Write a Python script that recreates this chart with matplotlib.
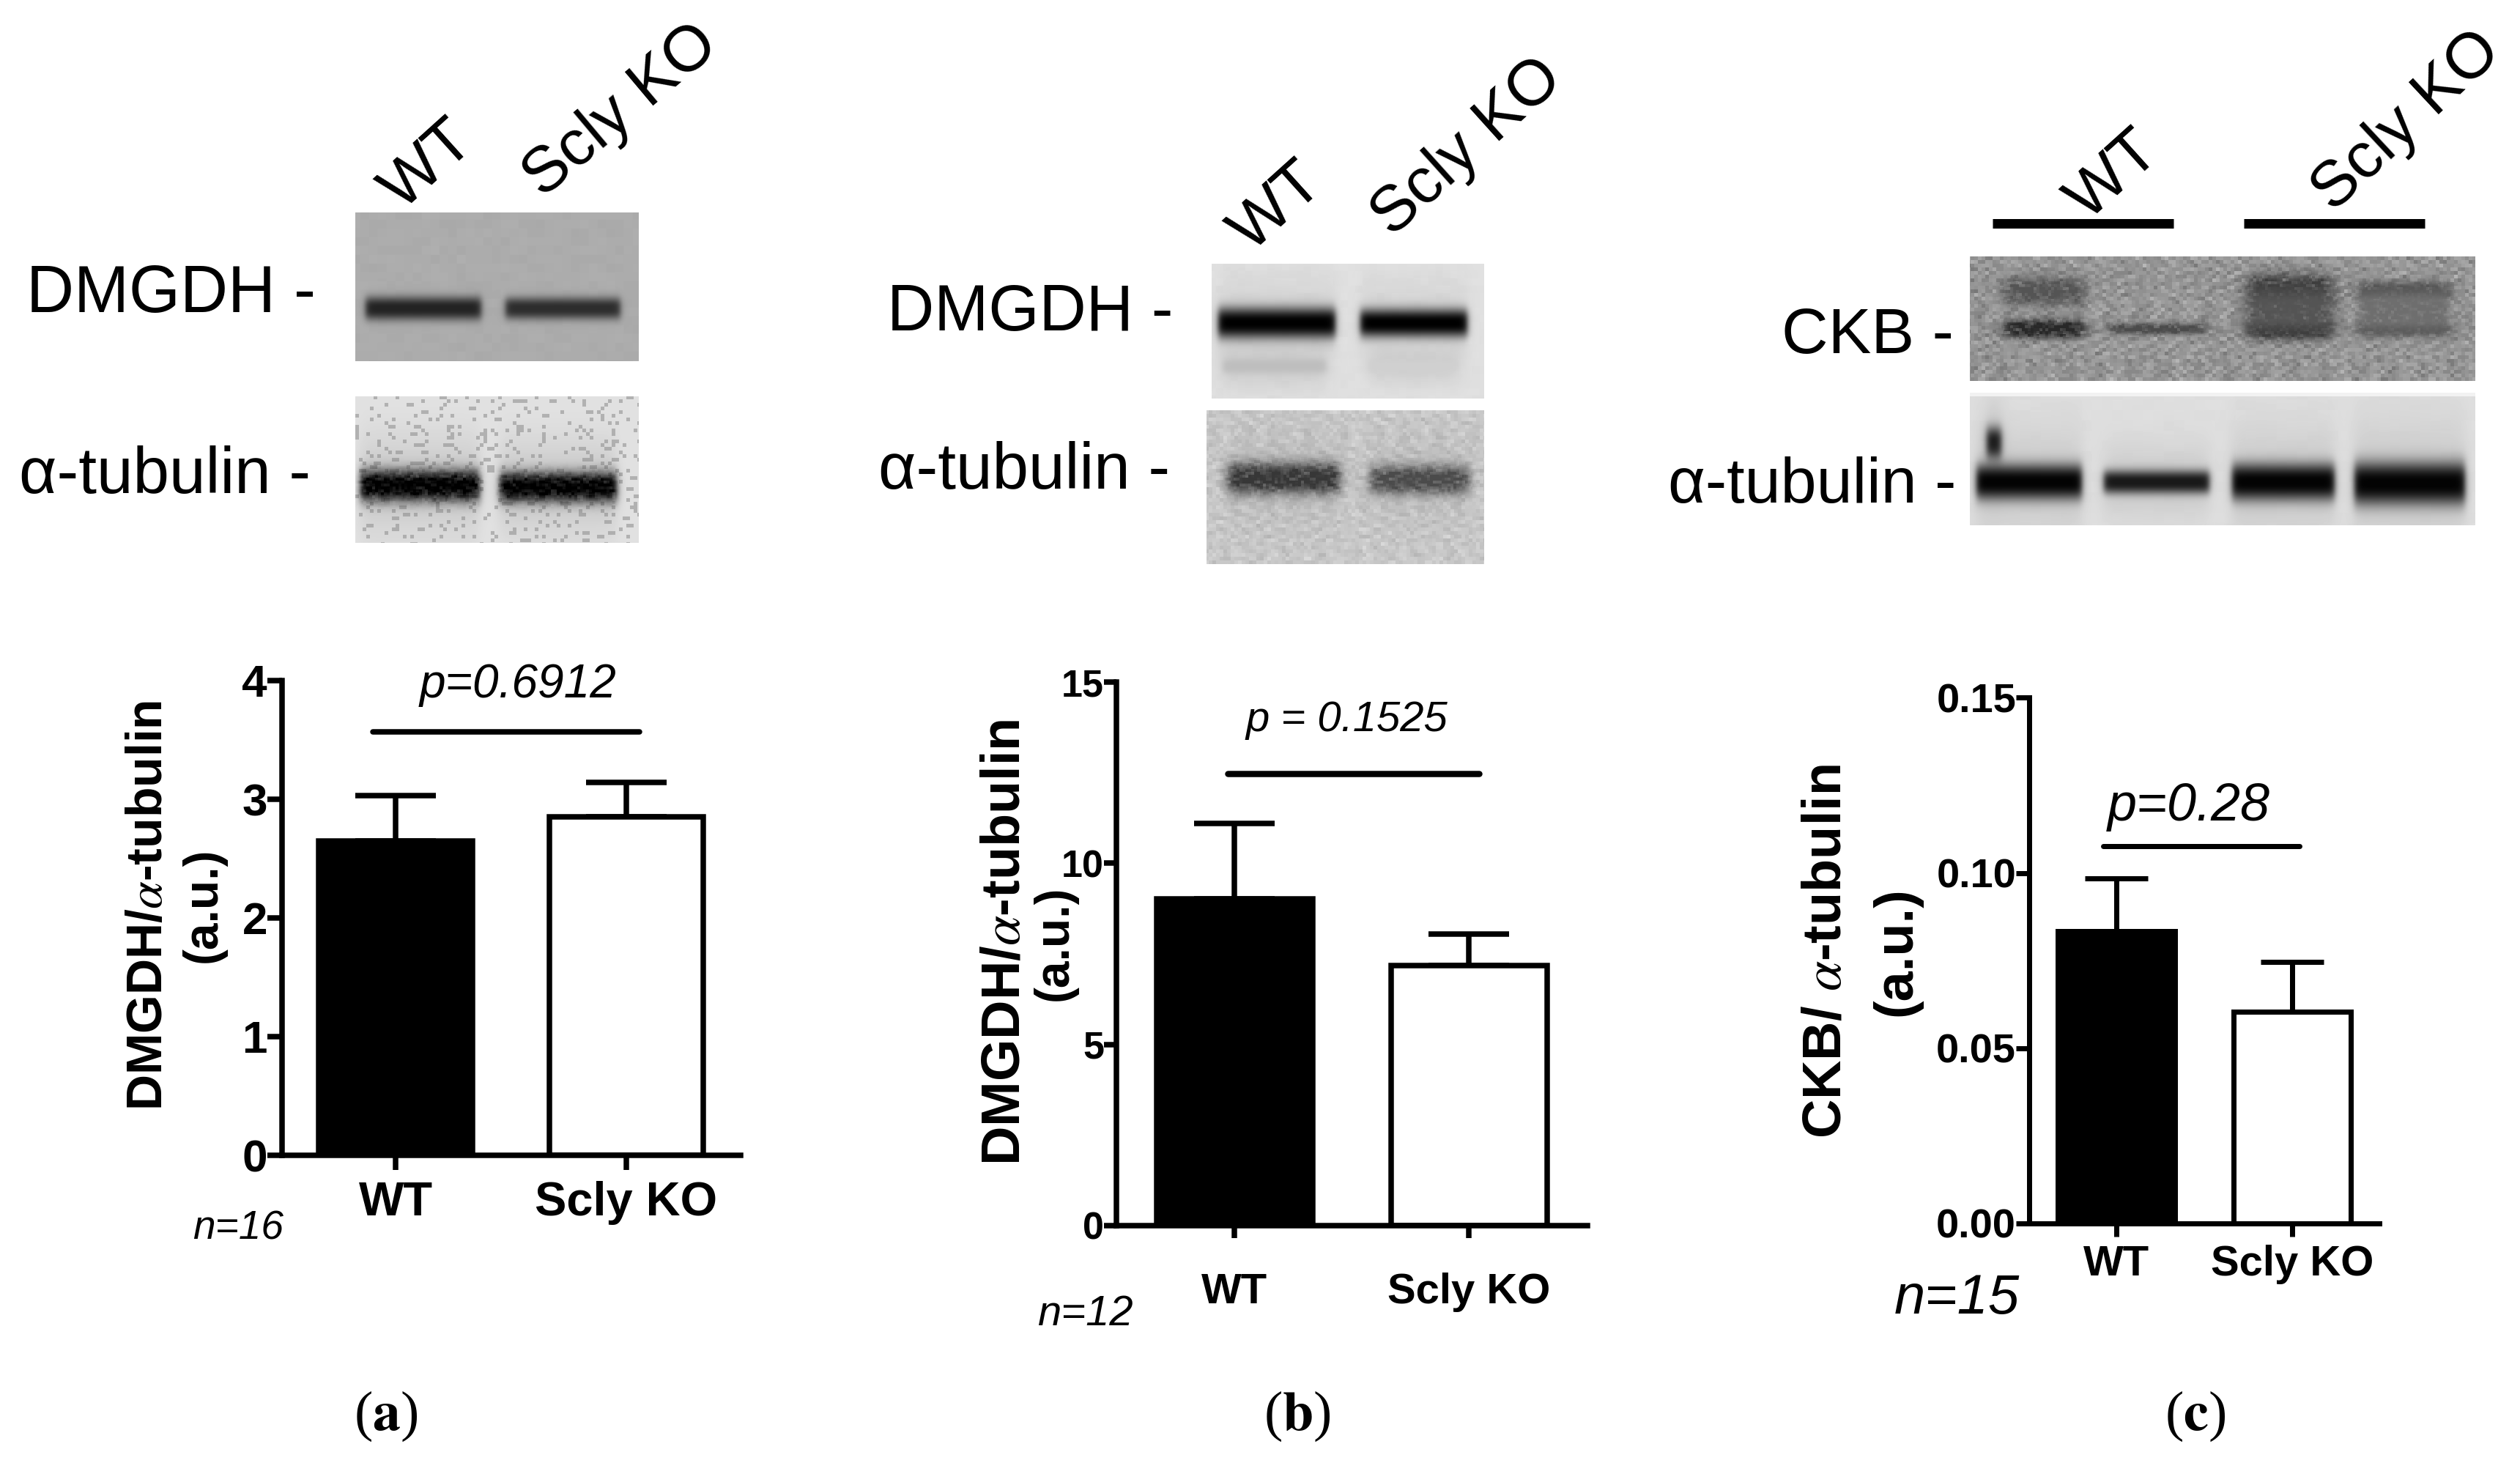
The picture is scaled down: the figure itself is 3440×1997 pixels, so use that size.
import numpy as np
import matplotlib
matplotlib.use("Agg")
import matplotlib.pyplot as plt

W, H = 3440, 1997
plt.rcParams['font.family'] = ['Liberation Sans', 'DejaVu Sans']
plt.rcParams['mathtext.fontset'] = 'stix'

# ---------- chart values ----------
categories = ["WT", "Scly KO"]
a_means = [2.65, 2.85]
a_errs = [0.38, 0.29]
a_ticks = [0, 1, 2, 3, 4]
a_ticklabels = ["0", "1", "2", "3", "4"]
b_means = [9.02, 7.18]
b_errs = [2.08, 0.86]
b_ticks = [0, 5, 10, 15]
b_ticklabels = ["0", "5", "10", "15"]
c_means = [0.0834, 0.0604]
c_errs = [0.0151, 0.0142]
c_ticks = [0.00, 0.05, 0.10, 0.15]
c_ticklabels = ["0.00", "0.05", "0.10", "0.15"]

PX = 0.72  # points per pixel at dpi=100
fig = plt.figure(figsize=(W / 100, H / 100), dpi=100, facecolor='white')

# ---------- overlay in pixel coordinates ----------
ov = fig.add_axes([0, 0, 1, 1], zorder=5)
ov.set_xlim(0, W)
ov.set_ylim(H, 0)
ov.axis('off')
ov.patch.set_alpha(0)


def box(x, a, b, s):
    return 0.5 * (np.tanh((x - a) / s) - np.tanh((x - b) / s))


def grain(X, Y, cell, k):
    i = np.floor(X / cell)
    j = np.floor(Y / cell)
    g = (np.sin(i * 1.37 * k + j * 2.11 + np.sin(j * 0.61) * 5)
         + np.sin(i * 3.03 - j * 1.73 * k + np.sin(i * 0.83) * 6)
         + np.sin(i * 0.71 + j * 4.19 + np.sin(j * 0.37) * 7)
         + np.sin(i * 5.23 * k + j * 0.53 + np.sin(i * 0.29 + j * 0.47) * 8))
    return g / 4


def blot(x0, x1, y0, y1, bg, bands, tex=0, cell=6, k=1.0, speck=0, sx=5, halo=0.0, rough=0.0, power=2.6):
    xs = np.arange(x0, x1)
    ys = np.arange(y0, y1)
    X, Y = np.meshgrid(xs + 0.5, ys + 0.5)
    img = np.full(X.shape, float(bg))
    if tex:
        img += tex * grain(X, Y, cell, k)
    if speck:
        g = grain(X, Y, cell, k * 1.31)
        img -= speck * (g > 0.38)
    rg = grain(X, Y, max(cell - 1, 3), k * 0.77)
    for (a, b, yc, hy, gray) in bands:
        s = box(X, a, b, sx) * np.exp(-np.abs((Y - yc) / hy) ** power)
        if halo:
            h = box(X, a, b, sx * 2) * np.exp(-((Y - yc) / (hy * 3.0)) ** 2)
            img = img - (img - 140) * halo * h
        s = np.clip(s * (1 + rough * rg), 0, 1)
        img = img - (img - gray) * s
    ov.imshow(np.clip(img, 0, 255), extent=(x0, x1, y1, y0), cmap='gray', vmin=0, vmax=255,
              aspect='auto', interpolation='bilinear', zorder=1)


# panel (a) blots
blot(485, 872, 290, 493, 172, [(499, 657, 421, 16, 35), (690, 847, 421, 15, 45)], tex=3, cell=12)
blot(485, 872, 541, 741, 226, [(492, 655, 663, 22, 0), (682, 842, 665, 21, 0)],
     speck=48, cell=5, k=1.1, halo=0.3, rough=0.25)
# panel (b) blots
blot(1654, 2026, 360, 544, 224, [(1663, 1823, 441, 21, 0), (1857, 2003, 441, 19, 0),
                                 (1670, 1810, 500, 10, 190), (1870, 1990, 500, 8, 208)],
     tex=3, cell=10, halo=0.18)
blot(1647, 2026, 560, 770, 200, [(1676, 1829, 653, 22, 55), (1871, 2005, 655, 20, 75)],
     tex=20, cell=5, k=0.9, halo=0.2, rough=0.4, sx=9)
# panel (c) blots
ov.fill_between([2689, 3379], 536, 541, color='#f2f2f2', lw=0, zorder=1)
blot(2689, 3379, 350, 520, 150, [(2736, 2846, 398, 20, 85), (2736, 2846, 449, 13, 40),
                                 (2880, 3012, 449, 8, 75),
                                 (3069, 3183, 398, 24, 55), (3069, 3183, 449, 14, 40),
                                 (3069, 3183, 425, 32, 85),
                                 (3221, 3343, 398, 13, 70), (3221, 3343, 449, 10, 70),
                                 (3221, 3343, 425, 32, 110)],
     tex=34, cell=5, k=1.2, sx=12, rough=0.6)
blot(2689, 3379, 541, 717, 222, [(2712, 2732, 605, 22, 5), (2698, 2842, 658, 24, 3), (2872, 3016, 658, 16, 25),
                                 (3047, 3187, 658, 25, 3), (3214, 3365, 660, 29, 3)],
     tex=2, cell=14, halo=0.25)
ov.set_xlim(0, W)
ov.set_ylim(H, 0)

# lane bars above (c)
for xa, xb in [(2720, 2967), (3063, 3310)]:
    ov.plot([xa, xb], [305, 305], color='black', lw=13 * PX, solid_capstyle='butt', zorder=3)


def T(x, y, s, px, **kw):
    kw.setdefault('ha', 'center')
    kw.setdefault('va', 'center')
    kw.setdefault('color', 'black')
    ov.text(x, y, s, fontsize=px * PX, zorder=6, **kw)


# blot labels
T(36, 426, "DMGDH -", 90, ha='left', va='baseline')
T(26, 673, "α-tubulin -", 89, ha='left', va='baseline')
T(1211, 451, "DMGDH -", 89, ha='left', va='baseline')
T(1199, 667, "α-tubulin -", 89, ha='left', va='baseline')
T(2432, 482, "CKB -", 88, ha='left', va='baseline')
T(2277, 686, "α-tubulin -", 88, ha='left', va='baseline')

# rotated lane labels
T(584, 226, "WT", 88, rotation=42, rotation_mode='anchor')
T(848, 152, "Scly KO", 88, rotation=40, rotation_mode='anchor')
T(1743, 283, "WT", 88, rotation=42, rotation_mode='anchor')
T(2003, 202, "Scly KO", 88, rotation=42, rotation_mode='anchor')
T(2885, 240, "WT", 88, rotation=42, rotation_mode='anchor')
T(3286, 166, "Scly KO", 88, rotation=43, rotation_mode='anchor')


def panel(means, errs, ticks, ticklabels, ymax, ax_x0, ax_x1, y_top, y_zero,
          c0, c1, bar_px, cap_px, tick_px, lw_px, tick_fs, x_fs, bracket, br_lw, xlab_y):
    ax = fig.add_axes([ax_x0 / W, 1 - y_zero / H, (ax_x1 - ax_x0) / W, (y_zero - y_top) / H], zorder=2)
    unit = c1 - c0
    ax.set_xlim((ax_x0 - c0) / unit, (ax_x1 - c0) / unit)
    ax.set_ylim(0, ymax)
    lw = lw_px * PX
    x = [0, 1]
    ax.errorbar(x, means, yerr=[[0, 0], errs], fmt='none', ecolor='black', elinewidth=lw,
                capsize=cap_px / 2 * PX, capthick=lw, zorder=2)
    ax.bar(x, means, width=bar_px / unit, color=['black', 'white'], edgecolor='black',
           linewidth=lw, zorder=3)
    ax.plot(bracket[:2], [bracket[2], bracket[2]], color='black', lw=br_lw * PX,
            solid_capstyle='round', clip_on=False, zorder=4)
    for s in ['top', 'right']:
        ax.spines[s].set_visible(False)
    for s in ['left', 'bottom']:
        ax.spines[s].set_linewidth(lw)
        ax.spines[s].set_zorder(5)
    ax.set_yticks(ticks)
    ax.set_yticklabels(ticklabels, fontweight='bold', fontsize=tick_fs * PX)
    ax.set_xticks(x)
    ax.set_xticklabels([])
    ax.tick_params(axis='both', length=tick_px * PX, width=lw, pad=0)
    ax.patch.set_alpha(0)
    for xi, lab in zip(x, categories):
        T(c0 + xi * unit, xlab_y, lab, x_fs, fontweight='bold')
    return ax


# (a)
panel(a_means, a_errs, a_ticks, a_ticklabels, 4, 385, 1011, 929, 1577, 540, 855, 210, 110, 20, 7.5,
      62, 65, (-0.10, 1.057, 3.57), 7.5, 1642)
T(203, 1236, r"DMGDH/$\alpha$-tubulin", 68, rotation=90, fontweight='bold')
T(278, 1235, "(a.u.)", 66, rotation=90, fontweight='bold')
T(707, 935, "p=0.6912", 64, style='italic')
T(325, 1678, "n=16", 55, style='italic')

# (b)
panel(b_means, b_errs, b_ticks, b_ticklabels, 15, 1524, 2167, 931, 1673, 1685, 2005, 213, 110, 17, 7.5,
      52, 58, (-0.028, 1.044, 12.47), 8.5, 1764)
T(1372, 1286, r"DMGDH/$\alpha$-tubulin", 74, rotation=90, fontweight='bold')
T(1440, 1287, "(a.u.)", 66, rotation=90, fontweight='bold')
T(1838, 983, "p = 0.1525", 58, style='italic')
T(1481, 1794, "n=12", 58, style='italic')

# (c)
panel(c_means, c_errs, c_ticks, c_ticklabels, 0.15, 2770, 3248, 952.5, 1670, 2889, 3129, 160, 86, 18, 7,
      56, 58, (-0.075, 1.042, 0.1077), 7, 1726)
T(2493, 1299, r"CKB/ $\alpha$-tubulin", 74, rotation=90, fontweight='bold')
T(2589, 1299, "(a.u.)", 74, rotation=90, fontweight='bold')
T(2988, 1101, "p=0.28", 72, style='italic')
T(2671, 1773, "n=15", 76, style='italic')

# panel letters
for xp, letter in [(527, 'a'), (1771, 'b'), (2997, 'c')]:
    T(xp, 1933, r"($\mathbf{" + letter + r"}$)", 76, family=['Liberation Serif', 'DejaVu Serif'])

fig.savefig("out.png", dpi=100, facecolor='white')
